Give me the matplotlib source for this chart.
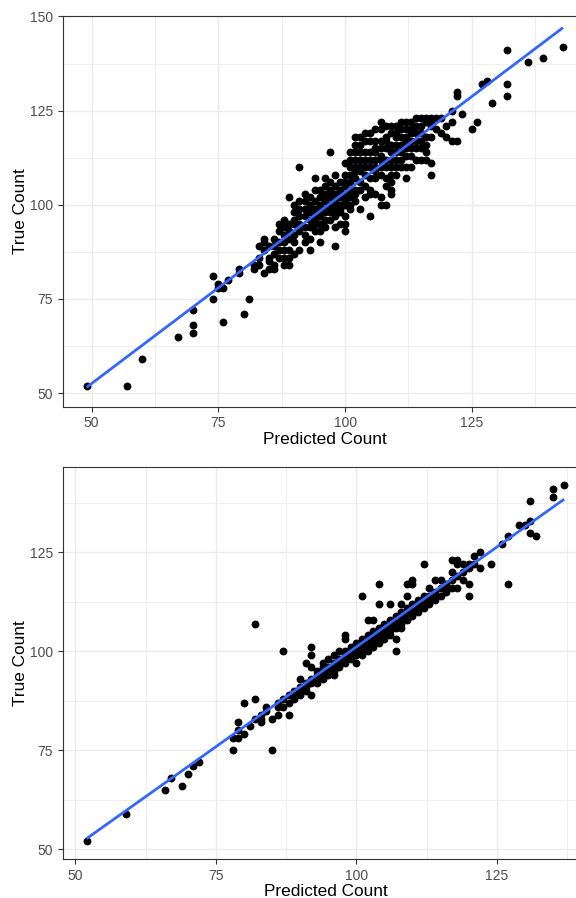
import numpy as np
import matplotlib
matplotlib.use('Agg')
import matplotlib.pyplot as plt

plt.rcParams['font.family'] = ['Liberation Sans', 'DejaVu Sans']

# top panel: predicted vs true counts
top_pred = [49, 57, 60, 67, 70, 70, 70, 74, 74, 75, 75, 76, 76, 77, 79, 79, 80, 81, 82, 82,
            83, 83, 83, 84, 84, 84, 85, 85, 85, 86, 86, 86, 86, 87, 87, 87, 87,
            88, 88, 88, 88, 88, 89, 89, 89, 89, 89, 90, 90, 90, 90, 90,
            91, 91, 91, 91, 91, 91, 92, 92, 92, 92, 92, 93, 93, 93, 93, 93, 93,
            94, 94, 94, 94, 94, 94, 94, 95, 95, 95, 95, 95, 95, 96, 96, 96, 96, 96, 96,
            97, 97, 97, 97, 97, 97, 98, 98, 98, 98, 98, 98, 98, 99, 99, 99, 99, 99, 99, 99,
            100, 100, 100, 100, 100, 100, 100, 100, 100, 101, 101, 101, 101, 101, 101, 101, 101,
            102, 102, 102, 102, 102, 102, 102, 102, 103, 103, 103, 103, 103, 103, 103, 103,
            104, 104, 104, 104, 104, 104, 104, 105, 105, 105, 105, 105, 105, 105, 105,
            106, 106, 106, 106, 106, 106, 106, 106, 107, 107, 107, 107, 107, 107, 107, 107, 107,
            108, 108, 108, 108, 108, 108, 108, 108, 109, 109, 109, 109, 109, 109, 109, 109,
            110, 110, 110, 110, 110, 110, 110, 111, 111, 111, 111, 111,
            112, 112, 112, 112, 112, 112, 112, 113, 113, 113, 113, 113, 113,
            114, 114, 114, 114, 114, 115, 115, 115, 115, 115,
            116, 116, 116, 116, 116, 116, 117, 117, 117, 117, 117, 117,
            118, 118, 119, 119, 120, 120, 121, 121, 121, 122, 122, 122,
            123, 125, 126, 127, 128, 129, 132, 132, 132, 136, 139, 143,
            84, 85, 86, 87, 88, 88, 89, 89, 90, 90, 91, 92, 92, 93, 94, 95, 95,
            96, 96, 97, 98, 98, 100, 101, 102, 102, 103, 104, 105, 106, 107, 108,
            109, 109, 110, 111, 111, 112, 113, 114, 115]
top_true = [52, 52, 59, 65, 66, 68, 72, 75, 81, 78, 79, 69, 78, 80, 82, 83, 71, 75, 83, 84,
            89, 86, 84, 91, 82, 88, 86, 83, 89, 83, 89, 84, 87, 95, 93, 90, 86,
            92, 90, 88, 84, 94, 84, 91, 93, 102, 88, 100, 92, 95, 87, 96,
            110, 97, 95, 99, 93, 88, 97, 99, 94, 101, 90, 88, 98, 96, 100, 94, 91,
            107, 104, 96, 99, 101, 93, 97, 90, 98, 102, 100, 95, 97, 99, 103, 101, 96, 94, 105,
            114, 104, 100, 98, 102, 96, 89, 94, 100, 103, 105, 97, 101, 95, 102, 104, 99, 106, 100, 98,
            95, 93, 101, 103, 105, 108, 100, 111, 97, 99, 102, 104, 106, 108, 100, 112, 110,
            116, 114, 107, 104, 101, 112, 109, 103, 99, 116, 114, 109, 106, 112, 110, 104,
            114, 108, 112, 110, 105, 117, 102, 97, 112, 117, 110, 107, 104, 114, 103,
            117, 103, 112, 107, 114, 110, 109, 120, 120, 113, 108, 100, 102, 117, 110, 115, 112,
            117, 105, 100, 112, 110, 115, 118, 107, 116, 106, 103, 104, 114, 119, 112, 110,
            118, 114, 108, 112, 116, 119, 121, 116, 114, 110, 120, 112,
            107, 115, 122, 118, 113, 117, 120, 122, 119, 117, 113, 115, 120,
            119, 112, 117, 115, 121, 123, 119, 112, 121, 117,
            123, 118, 114, 112, 116, 122, 122, 123, 121, 108, 111, 118,
            123, 120, 123, 119, 118, 121, 125, 122, 117, 130, 129, 117,
            124, 120, 122, 132, 133, 127, 141, 132, 129, 138, 139, 142,
            90, 85, 91, 88, 86, 96, 95, 86, 98, 90, 101, 92, 103, 102, 95, 104, 93,
            107, 98, 106, 108, 99, 106, 114, 118, 110, 118, 119, 119, 115, 122, 121,
            121, 108, 110, 118, 122, 110, 110, 123, 115]

# bottom panel
bottom_pred = [52, 59, 66, 67, 69, 70, 71, 72, 78, 78, 79, 79, 79, 80, 80, 81, 82, 82, 82,
               83, 83, 83, 84, 84, 85, 85, 86, 86, 86, 87, 87, 87, 88, 88, 88, 89, 89, 89,
               90, 90, 90, 90, 91, 91, 91, 91, 92, 92, 92, 92, 92, 92, 93, 93, 93, 93,
               94, 94, 94, 94, 94, 95, 95, 95, 95, 96, 96, 96, 96, 96, 97, 97, 97, 97,
               98, 98, 98, 98, 98, 98, 99, 99, 99, 99, 100, 100, 100, 100, 100,
               101, 101, 101, 101, 101, 101, 102, 102, 102, 102, 102, 102,
               103, 103, 103, 103, 103, 103, 104, 104, 104, 104, 104, 104, 104,
               105, 105, 105, 105, 105, 106, 106, 106, 106, 106, 106,
               107, 107, 107, 107, 107, 107, 108, 108, 108, 108, 108, 108,
               109, 109, 109, 109, 109, 109, 110, 110, 110, 110, 110, 110,
               111, 111, 111, 111, 112, 112, 112, 112, 112, 113, 113, 113, 113,
               114, 114, 114, 114, 115, 115, 115, 116, 116, 116,
               117, 117, 117, 117, 118, 118, 118, 118, 119, 119, 119, 120, 120, 120, 120,
               121, 121, 122, 122, 124, 126, 127, 127, 129, 130, 131, 131, 131, 132, 135, 135, 137]
bottom_true = [52, 59, 65, 68, 66, 69, 71, 72, 75, 78, 78, 80, 82, 79, 87, 81, 88, 83, 107,
               82, 84, 83, 86, 85, 83, 75, 86, 87, 84, 100, 88, 86, 84, 87, 89, 88, 90, 89,
               93, 89, 91, 90, 97, 90, 92, 91, 101, 99, 96, 89, 93, 92, 94, 92, 95, 93,
               95, 93, 96, 94, 97, 96, 94, 95, 98, 97, 95, 96, 99, 94, 98, 96, 97, 100,
               104, 103, 98, 97, 99, 100, 100, 98, 99, 101, 101, 99, 100, 102, 97,
               114, 102, 100, 101, 103, 99, 108, 103, 101, 102, 104, 100,
               108, 104, 102, 103, 105, 101, 117, 112, 105, 103, 104, 106, 102,
               107, 106, 104, 105, 103, 112, 107, 105, 106, 108, 104,
               103, 100, 108, 106, 107, 109, 112, 109, 107, 108, 110, 106,
               117, 114, 110, 108, 109, 111, 118, 117, 111, 109, 110, 112,
               112, 110, 111, 113, 122, 113, 111, 112, 114, 116, 114, 112, 113,
               118, 115, 113, 114, 118, 116, 114, 116, 117, 115,
               123, 120, 118, 116, 122, 123, 116, 119, 122, 118, 120, 122, 117, 114, 121,
               124, 122, 125, 121, 122, 127, 129, 117, 132, 132, 138, 133, 130, 129, 141, 139, 142]


def draw(ax, pred, true, xlim, ylim, yticks, yminor):
    pred = np.array(pred)
    true = np.array(true)
    ax.scatter(pred, true, s=32, c='black', linewidths=0, zorder=3)
    k, b = np.polyfit(pred, true, 1)
    xs = np.array([pred.min(), pred.max()])
    ax.plot(xs, k * xs + b, color='#3366FF', lw=2, zorder=4, solid_capstyle='butt')
    ax.set_xlim(xlim)
    ax.set_ylim(ylim)
    ax.set_xticks([50, 75, 100, 125])
    ax.set_xticks([62.5, 87.5, 112.5, 137.5], minor=True)
    ax.set_yticks(yticks)
    ax.set_yticks(yminor, minor=True)
    ax.grid(which='major', color='#EBEBEB', lw=1.0)
    ax.grid(which='minor', color='#EBEBEB', lw=0.6)
    ax.set_axisbelow(True)
    for s in ax.spines.values():
        s.set_color('#333333')
        s.set_linewidth(0.8)
    ax.tick_params(which='major', length=3.5, width=0.8, color='#333333',
                   labelcolor='#4D4D4D', labelsize=10)
    ax.tick_params(which='minor', length=0)
    ax.set_xlabel('Predicted Count', fontsize=12.4, labelpad=1)
    ax.set_ylabel('True Count', fontsize=12.4, labelpad=1)


fig = plt.figure(figsize=(5.76, 8.98), dpi=100)
ax1 = fig.add_axes([0.1089, 0.5471, 0.910, 0.4354])
ax2 = fig.add_axes([0.1089, 0.0434, 0.912, 0.4363])

draw(ax1, top_pred, top_true, (44.3, 147.7), (46.4, 150.2),
     [50, 75, 100, 125, 150], [62.5, 87.5, 112.5, 137.5])
draw(ax2, bottom_pred, bottom_true, (47.75, 141.25), (47.5, 146.5),
     [50, 75, 100, 125], [62.5, 87.5, 112.5, 137.5])

fig.savefig('out.png', dpi=100)
